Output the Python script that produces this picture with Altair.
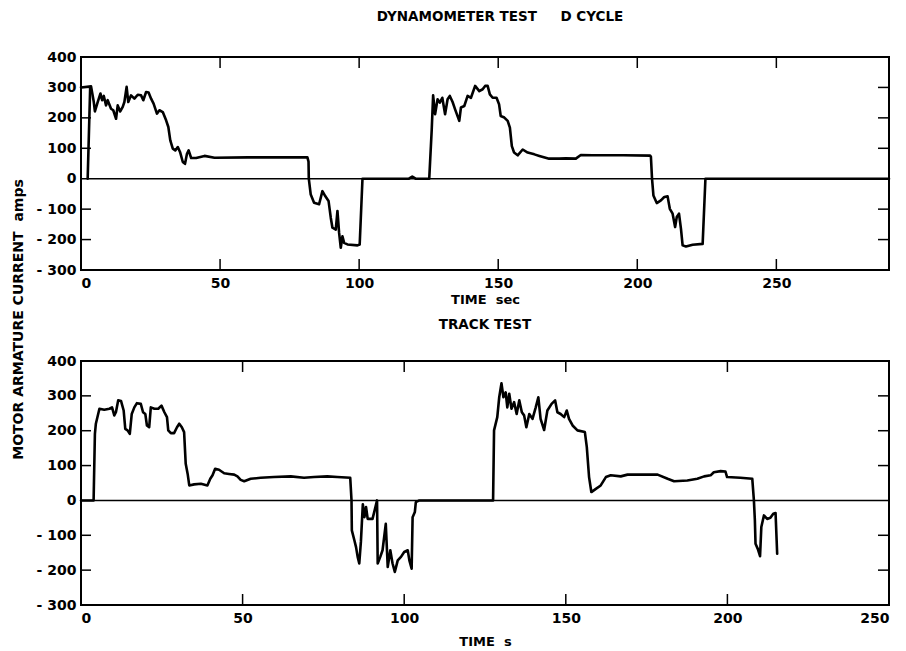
import altair as alt
import pandas as pd

# ---------------- data ----------------
dyn_t = [0, 3.6, 4.6, 5.0, 6.0, 7.0, 7.6, 8.2, 9.0, 9.6, 10.8, 11.6, 12.6, 13.2, 14.1, 15.0,
         15.6, 16.4, 17.0, 18.0, 19.2, 20.4, 21.6, 22.4, 23.4, 24.3, 25.2, 26.1, 27.3, 28.2,
         29.4, 30.6, 31.4, 32.1, 33.0, 33.9, 34.8, 35.6, 36.6, 37.4, 38.1, 38.7, 39.6, 41.4,
         44.4, 48.0, 60, 70, 81.4, 81.8, 81.9, 82.6, 83.8, 85.6, 86.8, 87.8, 89.0, 89.8, 90.4,
         91.6, 92.2, 92.8, 93.4, 94.0, 94.6, 95.8, 99.4, 100.2, 101.2, 117.9, 119.1, 120.3,
         125.2, 126.1, 126.6, 127.3, 128.2, 129.0, 129.9, 130.9, 131.8, 132.6, 133.6, 134.5,
         136.0, 136.6, 137.8, 139.0, 140.2, 141.7, 143.2, 144.4, 145.3, 146.2, 147.0, 148.0,
         149.4, 150.3, 150.9, 152.2, 153.4, 154.2, 154.9, 155.7, 157.0, 158.8, 160.6, 163.0,
         164.8, 168.3, 171.9, 174.3, 177.9, 179.7, 183.9, 195, 204.6, 204.9, 205.3, 205.8,
         207.0, 208.5, 209.7, 210.9, 211.7, 212.7, 213.6, 214.2, 215.0, 215.7, 216.3, 217.5,
         219.9, 223.5, 224.5, 290.5]
dyn_i = [300, 304, 252, 221, 252, 280, 258, 272, 241, 258, 230, 225, 197, 241, 221, 236,
         252, 302, 252, 274, 263, 276, 274, 258, 285, 283, 263, 247, 214, 225,
         219, 192, 170, 126, 99, 93, 104, 88, 55, 49, 82, 93, 68, 68,
         75, 69, 70, 70, 70, 56, 0, -52, -79, -84, -41, -57, -73, -128, -161,
         -167, -106, -178, -227, -189, -211, -216, -219, -216, 0, 0, 7, 0,
         0, 162, 274, 212, 261, 250, 266, 212, 261, 272, 252, 228,
         190, 234, 239, 272, 266, 305, 288, 294, 305, 305, 277, 266,
         266, 245, 206, 201, 190, 168, 107, 86, 77, 96, 86, 80,
         75, 66, 66, 67, 66, 78, 77, 77, 76, 72, 0, -55,
         -80, -71, -60, -58, -99, -115, -159, -126, -115, -164, -219, -223,
         -217, -214, 0, 0]
dyn_start_t = [2.4, 3.3]
dyn_start_i = [0, 300]

track_t = [0, 3.9, 4.3, 4.6, 5.7, 7.2, 8.8, 9.6, 10.3, 10.8, 11.5, 12.4, 13.2, 13.7, 14.4,
           15.1, 15.7, 16.5, 17.3, 18.5, 19.2, 19.9, 20.4, 21.1, 21.6, 22.7, 23.9, 24.9,
           25.8, 26.6, 27.0, 27.8, 28.8, 29.7, 30.4, 31.2, 31.9, 32.4, 33.0, 33.5, 35.0,
           37.1, 39.1, 40.0, 40.7, 41.5, 42.7, 44.3, 45.8, 47.4, 48.4, 49.4, 50.5, 52.5,
           55.6, 59.7, 64.9, 69.0, 72.1, 76.2, 79.3, 83.3, 83.7, 83.8, 84.6, 85.1, 85.6,
           86.1, 86.6, 87.2, 87.7, 88.2, 88.7, 90.2, 91.1, 91.6, 91.8, 92.6, 93.3, 94.3,
           94.9, 95.7, 96.4, 97.1, 98.0, 99.0, 100.0, 101.1, 101.6, 102.3, 102.6, 103.3,
           103.6, 104.7, 127.5, 127.8, 128.8, 129.4, 130.1, 130.7, 131.4, 131.9, 132.5,
           133.2, 134.0, 134.8, 135.6, 136.4, 137.1, 137.8, 138.7, 139.7, 140.7, 141.5,
           142.2, 143.3, 144.3, 145.6, 146.7, 147.4, 148.4, 149.5, 150.3, 151.0, 152.1,
           153.6, 155.9, 156.5, 157.2, 157.9, 159.3, 160.8, 162.4, 163.9, 167.0, 169.1,
           173.2, 178.4, 181.5, 183.5, 187.6, 190.7, 192.8, 194.8, 195.8, 197.9, 199.4,
           199.9, 204.0, 207.7, 208.2, 208.5, 208.7, 209.4, 210.1, 210.5, 211.3, 212.3,
           213.3, 214.2, 214.9, 215.4]
track_i = [0, 0, 191, 220, 263, 260, 263, 267, 244, 253, 287, 285, 258, 205, 201,
           191, 248, 267, 279, 277, 253, 248, 215, 210, 267, 263, 263, 272,
           253, 239, 201, 193, 193, 210, 220, 210, 196, 105, 76, 43, 46,
           48, 43, 62, 72, 91, 88, 78, 76, 74, 69, 59, 55, 62,
           65, 67, 69, 65, 67, 69, 67, 65, 0, -86, -115, -134, -162,
           -181, -119, -11, -48, -19, -53, -53, -19, 0, -181, -162, -143, -67,
           -191, -143, -181, -205, -172, -162, -148, -143, -172, -196, -48, -33,
           -5, 0, 0, 201, 239, 296, 336, 296, 310, 267, 306,
           263, 282, 248, 287, 253, 244, 210, 248, 234, 267, 296,
           234, 202, 258, 277, 287, 253, 248, 239, 258, 234, 215,
           201, 196, 153, 67, 24, 33, 43, 67, 72, 69, 74,
           74, 74, 62, 55, 57, 62, 69, 72, 81, 84, 83,
           67, 65, 62, 0, -57, -124, -139, -160, -76, -43, -53,
           -50, -38, -36, -153]

y_ticks = [-300, -200, -100, 0, 100, 200, 300, 400]
inner_y_ticks = [-200, -100, 100, 200, 300]
dyn_x_ticks = [0, 50, 100, 150, 200, 250]
dyn_inner_x = [50, 100, 150, 200, 250]
track_x_ticks = [0, 50, 100, 150, 200, 250]
track_inner_x = [50, 100, 150, 200]

FONT = "DejaVu Sans"
NB = "\u00a0"


def panel(segments, xmax, xticks, inner_x, w, h, title, title_dx, title_offset,
          xtitle, xtitle_pad, ytitle=None):
    rows = []
    for s, (ts, vs) in enumerate(segments):
        for k, (tt, vv) in enumerate(zip(ts, vs)):
            rows.append({"t": tt, "i": vv, "seg": s, "k": k})
    df = pd.DataFrame(rows)

    xs = alt.Scale(domain=[0, xmax], nice=False, zero=False)
    ys = alt.Scale(domain=[-300, 400], nice=False)
    xaxis = alt.Axis(values=xticks, ticks=False, domain=False, grid=False,
                     labelPadding=6, labelFont=FONT, labelFontSize=14,
                     labelFontWeight="bold", labelColor="black",
                     title=xtitle, titleFont=FONT, titleFontSize=13,
                     titleFontWeight="bold", titleColor="black",
                     titlePadding=xtitle_pad, format="d")
    yargs = dict(values=y_ticks, ticks=False, domain=False, grid=False,
                 labelPadding=5, labelFont=FONT, labelFontSize=14,
                 labelFontWeight="bold", labelColor="black",
                 labelExpr="datum.value < 0 ? '- ' + abs(datum.value) : datum.label")
    if ytitle:
        yargs.update(title=ytitle, titleFont=FONT, titleFontSize=14,
                     titleFontWeight="bold", titleColor="black",
                     titleX=-56, titleY=262, titleAngle=270, titleAlign="center")
    else:
        yargs.update(title=None)
    yaxis = alt.Axis(**yargs)

    X = alt.X("t:Q", scale=xs, axis=xaxis)
    Y = alt.Y("i:Q", scale=ys, axis=yaxis)

    line = alt.Chart(df).mark_line(color="black", strokeWidth=2.6,
                                   strokeJoin="round", strokeCap="round").encode(
        x=X, y=Y, detail="seg:N", order="k:Q")

    zero = alt.Chart(pd.DataFrame({"i": [0]})).mark_rule(
        color="black", strokeWidth=1.6).encode(y=Y, x=alt.value(0), x2=alt.value(w))

    xt = pd.DataFrame({"t": inner_x})
    yt = pd.DataFrame({"i": inner_y_ticks})
    top_ticks = alt.Chart(xt).mark_rule(color="black", strokeWidth=1.5).encode(
        x=X, y=alt.value(0), y2=alt.value(11))
    bot_ticks = alt.Chart(xt).mark_rule(color="black", strokeWidth=1.5).encode(
        x=X, y=alt.value(h - 11), y2=alt.value(h))
    left_ticks = alt.Chart(yt).mark_rule(color="black", strokeWidth=1.5).encode(
        y=Y, x=alt.value(0), x2=alt.value(10))
    right_ticks = alt.Chart(yt).mark_rule(color="black", strokeWidth=1.5).encode(
        y=Y, x=alt.value(w - 11), x2=alt.value(w))

    return alt.layer(zero, top_ticks, bot_ticks, left_ticks, right_ticks, line).properties(
        width=w, height=h,
        title=alt.TitleParams(title, font=FONT, fontSize=13.5, fontWeight="bold",
                              color="black", anchor="middle", dx=title_dx,
                              offset=title_offset))


top = panel([(dyn_t, dyn_i), (dyn_start_t, dyn_start_i)], 290.5, dyn_x_ticks, dyn_inner_x,
            808, 213, f"DYNAMOMETER TEST{NB*5}D CYCLE", 15, 27,
            f"TIME{NB*2}sec", 3, f"MOTOR ARMATURE CURRENT{NB*2}amps")
bottom = panel([(track_t, track_i)], 250, track_x_ticks, track_inner_x,
               808, 244, "TRACK TEST", 0, 23, f"TIME{NB*2}s", 10)

chart = alt.vconcat(top, bottom, spacing=91, bounds="flush").properties(
    padding={"left": 1, "top": 0, "right": 0, "bottom": 0},
    background="white"
).configure_view(stroke="black", strokeWidth=2)

chart.save("out.html", embed_options={"renderer": "svg", "actions": False})
